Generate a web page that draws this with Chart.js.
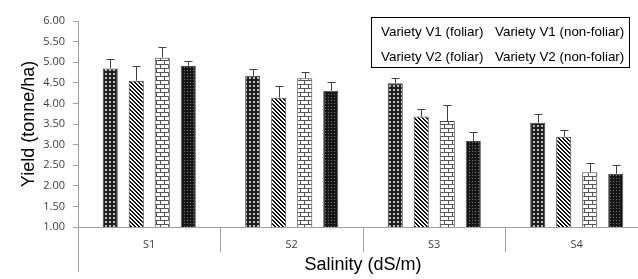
<!DOCTYPE html>
<html>
<head>
<meta charset="utf-8">
<script src="https://cdn.jsdelivr.net/npm/chart.js@4.4.1/dist/chart.umd.min.js"></script>
<style>
  html, body { margin: 0; padding: 0; overflow: hidden; background: #fff; }
  #wrap { width: 650px; height: 279px; }
</style>
</head>
<body>
<div id="wrap"><canvas id="yieldChart" width="650" height="279"></canvas></div>
<script>
var salinity = ["S1", "S2", "S3", "S4"];
var seriesNames = ["Variety V1 (foliar)", "Variety V1 (non-foliar)", "Variety V2 (foliar)", "Variety V2 (non-foliar)"];
var v1Foliar = [4.85, 4.67, 4.49, 3.53];
var v1NonFoliar = [4.55, 4.14, 3.68, 3.19];
var v2Foliar = [5.11, 4.61, 3.57, 2.33];
var v2NonFoliar = [4.91, 4.31, 3.09, 2.29];
var errV1Foliar = [0.23, 0.16, 0.13, 0.21];
var errV1NonFoliar = [0.36, 0.29, 0.19, 0.16];
var errV2Foliar = [0.27, 0.15, 0.39, 0.23];
var errV2NonFoliar = [0.13, 0.20, 0.21, 0.21];
var yTicks = [1.00, 1.50, 2.00, 2.50, 3.00, 3.50, 4.00, 4.50, 5.00, 5.50, 6.00];

// small pixel tiles for the black & white fills
function makePattern(w, h, pick) {
  var c = document.createElement("canvas");
  c.width = w; c.height = h;
  var g = c.getContext("2d");
  for (var y = 0; y < h; y++) {
    for (var x = 0; x < w; x++) {
      g.fillStyle = pick(x, y);
      g.fillRect(x, y, 1, 1);
    }
  }
  return g.createPattern(c, "repeat");
}

var ctx = document.getElementById("yieldChart").getContext("2d");

var dots = makePattern(4, 4, function (x, y) {
  if (x >= 1 && x <= 2 && y >= 1 && y <= 2) return "#bdbdbd";
  return "#1e1e1e";
});
var stripes = makePattern(4, 4, function (x, y) {
  var d = ((x - y) % 4 + 4) % 4;
  return d < 2 ? "#111" : "#fff";
});
var bricks = makePattern(8, 8, function (x, y) {
  if (y % 4 === 0) return "#555";
  if (y < 4 && x === 0) return "#555";
  if (y > 4 && x === 4) return "#555";
  return "#fff";
});
var dark = makePattern(3, 3, function (x, y) {
  return (x === 1 && y === 1) ? "#777" : "#161616";
});

var errorBars = {
  id: "errorBars",
  afterDatasetsDraw: function (chart) {
    var c = chart.ctx, ys = chart.scales.y;
    c.save();
    c.strokeStyle = "#404040";
    c.lineWidth = 1;
    chart.data.datasets.forEach(function (ds, i) {
      chart.getDatasetMeta(i).data.forEach(function (bar, j) {
        var top = Math.round(ys.getPixelForValue(ds.data[j] + ds.errors[j])) + 0.5;
        var x = Math.round(bar.x) + 0.5;
        c.beginPath();
        c.moveTo(x, bar.y);
        c.lineTo(x, top);
        c.moveTo(x - 4, top);
        c.lineTo(x + 4, top);
        c.stroke();
      });
    });
    c.restore();
  }
};

// y axis line runs on below the category axis
var axisTail = {
  id: "axisTail",
  afterDraw: function (chart) {
    var c = chart.ctx, a = chart.chartArea;
    c.save();
    c.strokeStyle = "#a0a0a0";
    c.lineWidth = 1;
    c.beginPath();
    c.moveTo(a.left + 0.5, a.bottom);
    c.lineTo(a.left + 0.5, chart.height - 7);
    c.stroke();
    c.restore();
  }
};

// legend: boxed text only, two columns
var boxLegend = {
  id: "boxLegend",
  afterDraw: function (chart, args, opts) {
    var c = chart.ctx;
    c.save();
    c.strokeStyle = "#000";
    c.lineWidth = 1;
    c.strokeRect(opts.left + 0.5, opts.top + 0.5, opts.width, opts.height);
    c.fillStyle = "#000";
    c.font = "13.4px 'Liberation Sans', Arial, sans-serif";
    c.textBaseline = "middle";
    chart.data.datasets.forEach(function (ds, i) {
      var col = i % 2, row = Math.floor(i / 2);
      c.fillText(ds.label, opts.left + opts.pad + col * opts.colWidth, opts.top + opts.rowStart + row * opts.rowGap);
    });
    c.restore();
  }
};

var fills = [dots, stripes, bricks, dark];
var values = [v1Foliar, v1NonFoliar, v2Foliar, v2NonFoliar];
var errs = [errV1Foliar, errV1NonFoliar, errV2Foliar, errV2NonFoliar];

var myChart = new Chart(ctx, {
  type: "bar",
  data: {
    labels: salinity,
    datasets: values.map(function (v, i) {
      return {
        label: seriesNames[i],
        data: v,
        errors: errs[i],
        backgroundColor: fills[i],
        borderColor: "#444",
        borderWidth: 1,
        categoryPercentage: 0.73,
        barPercentage: 0.58,
      };
    }),
  },
  options: {
    responsive: false,
    animation: false,
    layout: { padding: { top: 21, right: 2, left: 0, bottom: 0 } },
    plugins: {
      legend: { display: false },
      tooltip: { enabled: false },
      boxLegend: { left: 371, top: 17, width: 258, height: 50, pad: 10, colWidth: 114, rowStart: 15, rowGap: 25 },
    },
    scales: {
      x: {
        grid: { offset: true, drawOnChartArea: false, tickLength: 25, color: "#a0a0a0" },
        border: { color: "#a0a0a0" },
        ticks: { padding: -14, color: "#404040", font: { family: "'Open Sans'", size: 11 } },
        title: {
          display: true,
          text: "Salinity (dS/m)",
          color: "#000",
          font: { family: "'Liberation Sans'", size: 18 },
          padding: { top: 0, bottom: 3 },
        },
        afterFit: function (s) { s.height = 52; },
      },
      y: {
        min: 1,
        max: 6,
        afterBuildTicks: function (s) {
          s.ticks = yTicks.map(function (v) { return { value: v }; });
        },
        grid: { drawOnChartArea: false, tickLength: 5, color: "#a0a0a0" },
        border: { color: "#a0a0a0" },
        ticks: {
          padding: 8,
          color: "#404040",
          font: { family: "'Open Sans'", size: 11 },
          callback: function (v) { return Number(v).toFixed(2); },
        },
        title: {
          display: true,
          text: "Yield (tonne/ha)",
          color: "#000",
          font: { family: "'Liberation Sans'", size: 18 },
          padding: { top: 18, bottom: 0 },
        },
        afterFit: function (s) { s.width = 78; },
      },
    },
  },
  plugins: [errorBars, axisTail, boxLegend],
});
</script>
</body>
</html>
